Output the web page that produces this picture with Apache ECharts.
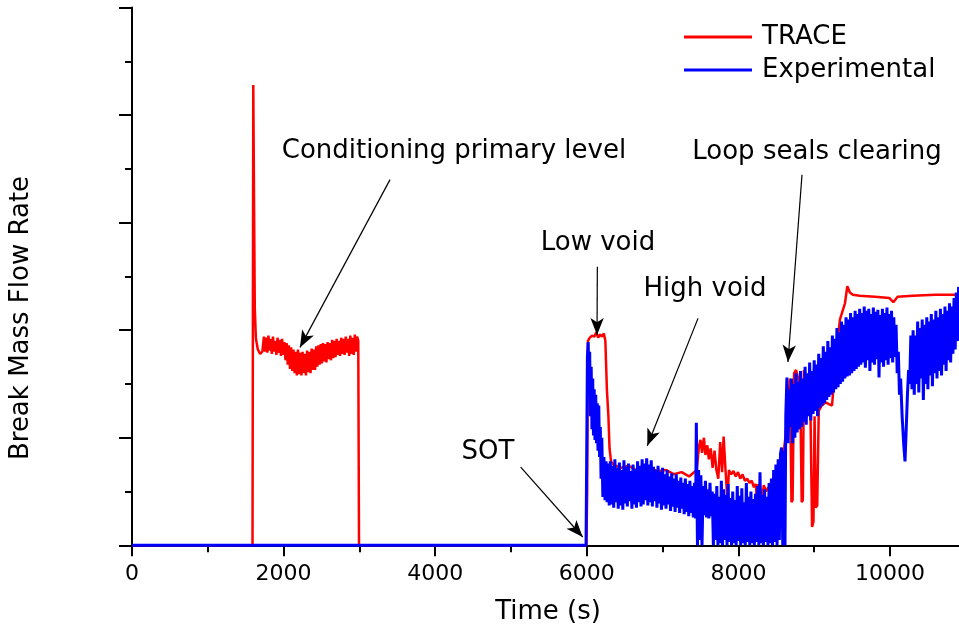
<!DOCTYPE html>
<html><head><meta charset="utf-8">
<script src="https://cdn.jsdelivr.net/npm/echarts@6/dist/echarts.min.js"></script>
<style>html,body{margin:0;padding:0;background:#fff;overflow:hidden}#c{width:959px;height:633px}</style>
</head><body><div id="c"></div>
<script>
// ---- data (time in s, break mass flow rate in arbitrary units) ----
const seriesNames = ['TRACE', 'Experimental'];
const traceData = [
[0,0],[1590,0],[1600,4.28],[1610,3.2],[1620,2.2],[1635,1.92],[1660,1.82],[1690,1.78],[1720,1.80],
[1740,1.94],[1755,1.80],[1770,1.93],[1785,1.79],[1800,1.95],[1815,1.81],[1830,1.92],[1845,1.78],[1860,1.94],[1875,1.80],
[1890,1.90],[1905,1.77],[1920,1.93],[1935,1.79],[1950,1.91],[1965,1.76],[1980,1.92],[1995,1.77],[2010,1.89],[2025,1.72],
[2040,1.88],[2055,1.68],[2070,1.86],[2085,1.64],[2100,1.84],[2115,1.62],[2130,1.82],[2145,1.60],[2160,1.80],[2175,1.58],
[2190,1.82],[2205,1.59],[2220,1.79],[2235,1.58],[2250,1.80],[2265,1.60],[2280,1.78],[2295,1.58],[2310,1.81],[2325,1.61],
[2340,1.80],[2355,1.60],[2370,1.83],[2385,1.63],[2400,1.82],[2415,1.63],[2430,1.85],[2445,1.66],[2460,1.86],[2475,1.68],
[2490,1.87],[2505,1.69],[2520,1.88],[2535,1.71],[2550,1.87],[2565,1.70],[2580,1.89],[2595,1.73],[2610,1.88],[2625,1.72],
[2640,1.91],[2655,1.74],[2670,1.90],[2685,1.75],[2700,1.92],[2715,1.77],[2730,1.90],[2745,1.76],[2760,1.93],[2775,1.78],
[2790,1.92],[2805,1.77],[2820,1.94],[2835,1.79],[2850,1.92],[2865,1.76],[2880,1.95],[2895,1.78],[2910,1.93],[2925,1.77],
[2940,1.96],[2955,1.80],[2970,1.94],[2985,1.90],[2995,0],
[5995,0],[6005,0.5],[6015,1.90],[6040,1.93],[6070,1.95],[6100,1.94],[6125,1.98],[6150,1.93],[6175,1.96],[6200,1.94],
[6225,1.97],[6245,1.90],[6265,1.45],[6285,1.20],[6300,0.90],[6320,0.78],[6350,0.75],[6450,0.72],[6550,0.74],[6650,0.70],
[6750,0.73],[6850,0.71],[6950,0.69],[7050,0.70],[7150,0.66],[7250,0.68],[7350,0.64],[7450,0.70],
[7480,0.92],[7500,0.98],[7520,0.86],[7545,1.00],[7565,0.84],[7590,0.93],[7610,0.80],[7635,0.90],[7660,0.72],[7685,0.88],
[7710,0.70],[7735,0.62],[7760,0.96],[7785,0.68],[7805,1.01],[7830,0.70],[7855,0.42],[7875,0.70],[7905,0.66],[7935,0.69],
[7965,0.64],[7995,0.68],[8025,0.62],[8055,0.66],[8085,0.60],[8115,0.62],[8145,0.58],[8175,0.60],[8205,0.54],[8230,0.57],
[8245,0.40],[8265,0.57],[8290,0.52],[8311,0.42],[8335,0.56],[8365,0.50],[8395,0.54],[8425,0.48],[8455,0.52],[8485,0.47],
[8515,0.50],[8545,0.46],[8570,0.60],[8590,0.82],[8620,1.00],[8650,1.25],[8680,1.55],[8700,0.40],[8715,0.42],[8735,1.60],
[8760,1.63],[8790,1.55],[8815,1.45],[8835,0.40],[8850,0.42],[8865,1.63],[8890,1.55],[8920,1.40],[8950,1.28],[8972,0.17],
[8990,0.22],[9005,1.20],[9020,0.35],[9040,0.37],[9060,1.25],[9100,1.30],[9150,1.33],[9200,1.31],[9235,1.30],[9265,1.55],
[9297,1.82],[9340,2.10],[9406,2.25],[9437,2.41],[9470,2.35],[9510,2.33],[9600,2.32],[9800,2.31],[9990,2.30],[10044,2.26],
[10100,2.31],[10300,2.32],[10600,2.33],[10920,2.33]
];
const expData = [
[0,0],[5990,0],[6000,0],[6008,1.75],[6018,1.89],[6028,1.55],[6038,1.80],[6048,1.20],[6058,1.66],[6068,1.08],
[6078,1.55],[6088,1.02],[6098,1.45],[6108,0.98],[6118,1.40],[6128,0.95],[6138,1.32],[6148,0.88],[6158,1.30],[6168,0.82],
[6178,1.10],[6188,0.62],[6198,1.00],[6212,0.45],[6226,0.82],[6240,0.42],[6254,0.78],[6268,0.40],[6282,0.76],[6296,0.37],
[6310,0.78],[6325,0.38],[6340,0.74],[6355,0.35],[6370,0.80],[6385,0.40],[6400,0.72],[6415,0.34],[6430,0.77],[6445,0.37],
[6460,0.70],[6475,0.33],[6490,0.79],[6505,0.39],[6520,0.73],[6535,0.36],[6550,0.76],[6565,0.41],[6580,0.69],[6595,0.34],
[6610,0.75],[6625,0.38],[6640,0.71],[6655,0.35],[6670,0.78],[6685,0.40],[6700,0.74],[6715,0.36],[6730,0.80],[6745,0.38],
[6760,0.76],[6775,0.42],[6790,0.81],[6805,0.37],[6820,0.75],[6835,0.40],[6850,0.79],[6865,0.36],[6880,0.73],[6895,0.41],
[6910,0.70],[6925,0.35],[6940,0.74],[6955,0.39],[6970,0.68],[6985,0.33],[7000,0.72],[7015,0.37],[7030,0.66],[7045,0.34],
[7060,0.70],[7075,0.38],[7090,0.64],[7105,0.32],[7120,0.67],[7135,0.36],[7150,0.62],[7165,0.31],[7180,0.66],[7195,0.35],
[7210,0.60],[7225,0.30],[7240,0.63],[7255,0.34],[7270,0.58],[7285,0.29],[7300,0.62],[7315,0.31],[7330,0.57],[7345,0.27],
[7360,0.60],[7375,0.30],[7390,0.55],[7405,0.26],[7420,0.58],[7435,0.25],[7445,1.14],[7460,0.00],[7475,0.70],[7490,0.05],
[7505,0.65],[7520,0.00],[7535,0.55],[7550,0.28],[7565,0.60],[7580,0.26],[7595,0.52],[7610,0.25],[7625,0.58],[7640,0.27],
[7655,0.50],[7670,0.00],[7685,0.48],[7700,0.05],[7715,0.55],[7730,0.00],[7745,0.45],[7760,0.02],[7775,0.60],[7790,0.00],
[7805,0.52],[7820,0.05],[7835,0.47],[7850,0.00],[7865,0.57],[7880,0.03],[7895,0.44],[7910,0.00],[7925,0.50],[7940,0.02],
[7955,0.42],[7970,0.00],[7985,0.55],[8000,0.04],[8015,0.46],[8030,0.00],[8045,0.53],[8060,0.02],[8075,0.40],[8090,0.00],
[8105,0.58],[8120,0.03],[8135,0.45],[8150,0.00],[8165,0.50],[8180,0.02],[8195,0.43],[8210,0.00],[8225,0.48],[8240,0.03],
[8255,0.55],[8270,0.00],[8285,0.68],[8300,0.02],[8315,0.47],[8330,0.00],[8345,0.52],[8360,0.03],[8375,0.45],[8390,0.00],
[8405,0.58],[8420,0.02],[8435,0.62],[8450,0.00],[8465,0.70],[8480,0.03],[8495,0.75],[8510,0.00],[8525,0.80],[8540,0.05],
[8555,0.85],[8570,0.91],[8585,0.00],[8600,0.88],[8615,0.00],[8625,1.20],[8640,1.56],[8655,0.95],[8670,1.45],[8685,1.10],
[8700,1.55],[8715,0.95],[8730,1.50],[8745,1.00],[8760,1.60],[8775,1.05],[8790,1.52],[8805,1.08],[8820,1.62],[8835,1.10],
[8850,1.55],[8865,1.15],[8880,1.66],[8895,1.12],[8910,1.60],[8925,1.20],[8940,1.70],[8955,1.16],[8970,1.62],[8985,1.22],
[9000,1.72],[9015,1.25],[9030,1.68],[9045,1.20],[9060,1.78],[9075,1.28],[9090,1.74],[9105,1.30],[9120,1.85],[9135,1.32],
[9150,1.80],[9165,1.35],[9180,1.90],[9195,1.38],[9210,1.84],[9225,1.40],[9240,1.95],[9255,1.42],[9270,1.92],[9285,1.45],
[9300,2.02],[9315,1.47],[9330,1.98],[9345,1.50],[9360,2.08],[9375,1.52],[9390,2.05],[9405,1.55],[9420,2.12],[9435,1.57],
[9450,2.10],[9465,1.58],[9480,2.16],[9495,1.60],[9510,2.12],[9525,1.62],[9540,2.18],[9555,1.64],[9570,2.15],[9585,1.66],
[9600,2.20],[9615,1.68],[9630,2.16],[9645,1.70],[9660,2.22],[9675,1.65],[9690,2.18],[9705,1.72],[9720,2.20],[9735,1.62],
[9750,2.15],[9765,1.70],[9780,2.21],[9795,1.68],[9810,2.17],[9825,1.73],[9840,2.19],[9855,1.56],[9870,2.14],[9885,1.70],
[9900,2.20],[9915,1.66],[9930,2.16],[9945,1.72],[9960,2.21],[9975,1.68],[9990,2.15],[10005,1.74],[10020,2.18],[10035,1.70],
[10050,2.12],[10065,1.75],[10080,2.05],[10095,1.60],[10110,1.80],[10125,1.40],[10140,1.55],[10160,1.20],[10180,0.95],[10198,0.78],
[10215,1.10],[10230,1.40],[10245,1.63],[10260,1.50],[10275,1.95],[10290,1.45],[10305,2.00],[10320,1.40],[10335,1.95],[10350,1.50],
[10365,2.08],[10380,1.42],[10395,2.02],[10410,1.55],[10425,2.10],[10440,1.35],[10455,2.05],[10470,1.50],[10485,2.12],[10500,1.45],
[10515,2.08],[10530,1.58],[10545,2.15],[10560,1.48],[10575,2.10],[10590,1.60],[10605,2.18],[10620,1.55],[10635,2.12],[10650,1.62],
[10665,2.20],[10680,1.58],[10695,2.15],[10710,1.68],[10725,2.22],[10740,1.62],[10755,2.18],[10770,1.72],[10785,2.25],[10800,1.70],
[10815,2.22],[10830,1.78],[10845,2.30],[10860,1.82],[10875,2.35],[10890,1.90],[10905,2.40],[10920,2.38]
];
// annotation arrows in data coordinates: [from, to]
const arrowLines = [
  [[3404,3.40],[2216,1.84]],
  [[5128,0.726],[5946,0.077]],
  [[6139,2.59],[6135,1.955]],
  [[7467,2.11],[6798,0.925]],
  [[8839,3.445],[8654,1.704]]
];
const annotationTexts = ['Conditioning primary level','SOT','Low void','High void','Loop seals clearing'];

// ---- layout ----
const FONT = '"DejaVu Sans", "Liberation Sans", sans-serif';
const textPos = [[454,151],[488,452],[598,243],[705,289],[817,152]];

const chart = echarts.init(document.getElementById('c'), null, {renderer:'canvas'});
const graphics = annotationTexts.map((t,i)=>({
  type:'text', x:textPos[i][0], y:textPos[i][1], silent:true,
  style:{text:t, font:'26px ' + FONT, fill:'#000', align:'center', verticalAlign:'middle'}
}));
graphics.push({type:'text', x:548, y:612, silent:true,
  style:{text:'Time (s)', font:'26px ' + FONT, fill:'#000', align:'center', verticalAlign:'middle'}});
graphics.push({type:'text', x:21, y:318, rotation:Math.PI/2, silent:true,
  style:{text:'Break Mass Flow Rate', font:'26px ' + FONT, fill:'#000', align:'center', verticalAlign:'middle'}});

chart.setOption({
  animation:false,
  backgroundColor:'#fff',
  grid:{left:132, top:7.5, width:909.6, height:537.8, containLabel:false, outerBoundsMode:'none'},
  legend:{
    orient:'vertical', left:684, top:24, padding:0, itemWidth:68, itemHeight:3, itemGap:7,
    icon:'rect', data:seriesNames,
    textStyle:{fontFamily:FONT, fontSize:26, color:'#000', lineHeight:26, padding:[0,0,0,5]}
  },
  xAxis:[{
    type:'value', min:0, max:12000, interval:2000, position:'bottom',
    axisLine:{show:true, onZero:false, lineStyle:{color:'#000', width:2}},
    axisTick:{show:true, inside:false, length:11, lineStyle:{color:'#000', width:2}},
    minorTick:{show:true, splitNumber:2, length:7, lineStyle:{color:'#000', width:2}},
    axisLabel:{show:true, margin:18, color:'#000', fontFamily:FONT, fontSize:22,
      formatter:function(v){return String(v);}},
    splitLine:{show:false}
  },{
    type:'value', min:0, max:12000, position:'top',
    axisLine:{show:true, lineStyle:{color:'#000', width:2}},
    axisTick:{show:false}, axisLabel:{show:false}, splitLine:{show:false}
  }],
  yAxis:{
    type:'value', min:0, max:5, interval:1,
    axisLine:{show:true, onZero:false, lineStyle:{color:'#000', width:2}},
    axisTick:{show:true, inside:false, length:13, lineStyle:{color:'#000', width:2}},
    minorTick:{show:true, splitNumber:2, length:7, lineStyle:{color:'#000', width:2}},
    axisLabel:{show:false}, splitLine:{show:false}
  },
  series:[
    {name:'TRACE', type:'line', data:traceData, showSymbol:false, symbol:'none', clip:false,
     lineStyle:{color:'#ff0000', width:2.5}, itemStyle:{color:'#ff0000'}, z:2},
    {name:'Experimental', type:'line', data:expData, showSymbol:false, symbol:'none', clip:false,
     lineStyle:{color:'#0000ff', width:3}, itemStyle:{color:'#0000ff'}, z:3},
    {name:'arrows', type:'line', data:[], z:4, silent:true,
     markLine:{silent:true, symbol:['none','arrow'], symbolSize:[10,17], animation:false,
       lineStyle:{color:'#000', width:1.2, type:'solid'}, label:{show:false},
       emphasis:{disabled:true},
       data:arrowLines.map(a=>[{coord:a[0]},{coord:a[1]}])}}
  ],
  graphic:graphics
});
</script></body></html>
